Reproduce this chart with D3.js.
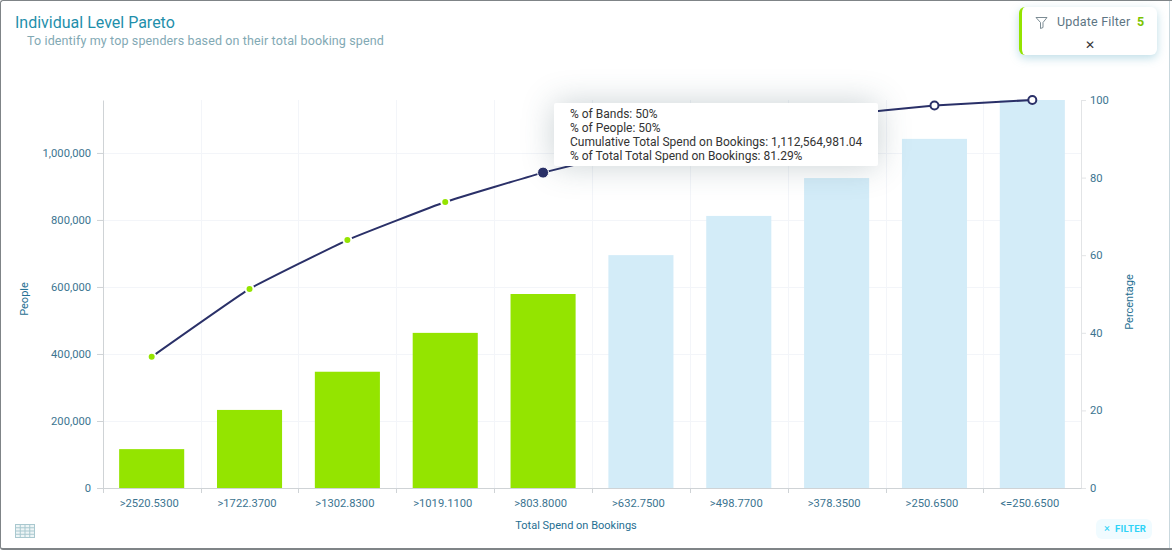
<!DOCTYPE html>
<html>
<head>
<meta charset="utf-8">
<script src="https://cdn.jsdelivr.net/npm/d3@7"></script>
<style>
    html, body { margin: 0; padding: 0; background: #fff; }
    body { width: 1172px; height: 550px; overflow: hidden; position: relative; font-family: Roboto, sans-serif; }
    #frame { position: absolute; left: 0; top: 0; width: 1171px; height: 547px; border: solid #7f8487; border-width: 1px 0 2px 1px; border-radius: 3px 0 0 3px; }
    #edge { position: absolute; left: 1169px; top: 1px; width: 1px; height: 547px; background: #c9d8de; }
    #chart { position: absolute; left: 0; top: 0; }
    .title { position: absolute; left: 15px; top: 13px; font-size: 16px; color: #1f8fab; }
    .subtitle { position: absolute; left: 27px; top: 33px; font-size: 12.5px; color: #82a9b4; letter-spacing: 0.13px; }
    .tick text { font-family: Roboto, sans-serif; font-size: 11.2px; fill: #3b7490; }
    .axis-label { font-family: Roboto, sans-serif; font-size: 11px; fill: #1f6f92; }
    .tooltip { position: absolute; left: 554px; top: 103px; width: 324px; height: 63px; box-sizing: border-box; padding: 4px 0 0 16px;
        background: #fff; border-radius: 2px; font-size: 12px; line-height: 14px; color: #333; box-shadow: 0 0 32px rgba(60, 90, 100, 0.28); white-space: nowrap; }
    .update-filter { position: absolute; left: 1019px; top: 7px; width: 138px; height: 48px; box-sizing: border-box; background: #fff;
        border-left: 3px solid #94e400; border-radius: 6px; box-shadow: 0 3px 10px rgba(90, 170, 195, 0.4); }
    .update-filter .label { position: absolute; left: 35px; top: 7px; font-size: 12.5px; color: #5d7583; letter-spacing: 0.2px; }
    .update-filter .count { position: absolute; left: 115px; top: 7px; font-size: 12.5px; font-weight: 700; color: #7cc400; }
    .update-filter .close { position: absolute; left: 63px; top: 31px; font-size: 12px; line-height: 14px; color: #333; }
    .update-filter svg { position: absolute; left: 13px; top: 9px; }
    .filter-btn { position: absolute; left: 1096px; top: 519px; width: 56px; height: 20px; border-radius: 6px; background: #f0fbff;
        font-size: 9.5px; font-weight: 700; color: #2ed3f7; line-height: 20px; letter-spacing: 0.3px; }
    .filter-btn .x { position: absolute; left: 8px; font-weight: 400; font-size: 11px; }
    .filter-btn .t { position: absolute; left: 19px; }
</style>
</head>
<body>
<div id="frame"></div>
<div id="edge"></div>
<svg id="chart" width="1172" height="550"></svg>
<div class="title">Individual Level Pareto</div>
<div class="subtitle">To identify my top spenders based on their total booking spend</div>
<div class="update-filter">
    <svg width="13" height="13" viewBox="0 0 13 13"><path d="M1 1.5H12L8 6.5V11.5L5.5 12.5V6.5Z" fill="none" stroke="#6d7f88" stroke-width="0.9"/></svg>
    <span class="label">Update Filter</span><span class="count">5</span>
    <span class="close">✕</span>
</div>
<div class="tooltip" id="tip"></div>
<div class="filter-btn"><span class="x">×</span><span class="t">FILTER</span></div>

<script>
// Data
const bands = [">2520.5300", ">1722.3700", ">1302.8300", ">1019.1100", ">803.8000",
    ">632.7500", ">498.7700", ">378.3500", ">250.6500", "<=250.6500"];
const people = [116000, 233000, 347000, 463000, 579000, 695000, 812000, 925000, 1042000, 1158000];
const percentage = [33.8, 51.3, 63.9, 73.7, 81.29, 87.4, 92.2, 96.0, 98.6, 100];
const selectedCount = 5;
const hoverIndex = 4;
const leftTicks = [0, 200000, 400000, 600000, 800000, 1000000];
const rightTicks = [0, 20, 40, 60, 80, 100];
const tooltipLines = ["% of Bands: 50%", "% of People: 50%",
    "Cumulative Total Spend on Bookings: 1,112,564,981.04",
    "% of Total Total Spend on Bookings: 81.29%"];

const margin = { top: 100, right: 91, bottom: 62, left: 103 };
const width = 1172 - margin.left - margin.right;
const height = 550 - margin.top - margin.bottom;

const svg = d3.select("#chart").append("g")
    .attr("transform", `translate(${margin.left},${margin.top})`);

const x = d3.scaleBand().domain(bands).range([0, width]).paddingInner(0.335).paddingOuter(0.165);
const yLeft = d3.scaleLinear().domain([0, 1158000]).range([height, 0]);
const yRight = d3.scaleLinear().domain([0, 100]).range([height, 0]);

// Left edge of each band, snapped so the thin lines stay crisp
const bandEdge = d => Math.round(x(d) - (x.step() - x.bandwidth()) / 2) + 0.5;

// Grid
svg.append("g").selectAll("line")
    .data(bands.slice(1))
    .enter().append("line")
    .attr("x1", bandEdge)
    .attr("x2", bandEdge)
    .attr("y1", 0).attr("y2", height)
    .attr("stroke", "#f3f5f9");
svg.append("g").selectAll("line")
    .data(leftTicks.slice(1))
    .enter().append("line")
    .attr("x1", 0).attr("x2", width)
    .attr("y1", d => Math.round(yLeft(d)) + 0.5).attr("y2", d => Math.round(yLeft(d)) + 0.5)
    .attr("stroke", "#f3f5f9");

// Bars
svg.selectAll(".bar")
    .data(bands)
    .enter().append("rect")
    .attr("class", "bar")
    .attr("x", d => x(d))
    .attr("y", (d, i) => yLeft(people[i]))
    .attr("width", x.bandwidth())
    .attr("height", (d, i) => height - yLeft(people[i]))
    .attr("fill", (d, i) => i < selectedCount ? "#94e400" : "#d3ecf8");

// Axes
const styleAxis = (g, colour) => {
    g.selectAll(".domain").attr("stroke", colour);
    g.selectAll(".tick line").attr("stroke", colour);
};
svg.append("g")
    .call(d3.axisLeft(yLeft).tickValues(leftTicks).tickFormat(d3.format(",")).tickSizeOuter(0).tickPadding(6))
    .call(styleAxis, "#cfd3d6");
svg.append("g")
    .attr("transform", `translate(${width},0)`)
    .call(d3.axisRight(yRight).tickValues(rightTicks).tickSizeOuter(0).tickSize(5).tickPadding(4))
    .call(styleAxis, "#e2e4e6");

svg.append("g")
    .attr("transform", `translate(0,${height})`)
    .call(d3.axisBottom(x).tickSize(0).tickPadding(11))
    .call(styleAxis, "#cfd3d6")
    .selectAll("text")
    .attr("dx", -2.5);
svg.append("g").selectAll("line")
    .data(bands)
    .enter().append("line")
    .attr("x1", bandEdge)
    .attr("x2", bandEdge)
    .attr("y1", height).attr("y2", height + 5)
    .attr("stroke", "#cfd3d6");

// Axis labels
svg.append("text")
    .attr("class", "axis-label")
    .attr("x", width / 2 - 16)
    .attr("y", height + 41)
    .attr("text-anchor", "middle")
    .text("Total Spend on Bookings");
svg.append("text")
    .attr("class", "axis-label")
    .attr("transform", "rotate(-90)")
    .attr("x", -199)
    .attr("y", -75)
    .attr("text-anchor", "middle")
    .text("People");
svg.append("text")
    .attr("class", "axis-label")
    .attr("transform", "rotate(-90)")
    .attr("x", -202)
    .attr("y", width + 52)
    .attr("text-anchor", "middle")
    .text("Percentage");

// Cumulative line
const line = d3.line()
    .x((d, i) => x(bands[i]) + x.bandwidth() / 2)
    .y(d => yRight(d))
    .curve(d3.curveCardinal.tension(0.7));
svg.append("path")
    .datum(percentage)
    .attr("d", line)
    .attr("fill", "none")
    .attr("stroke", "#2a3068")
    .attr("stroke-width", 2);

svg.selectAll(".point")
    .data(percentage)
    .enter().append("circle")
    .attr("class", "point")
    .attr("cx", (d, i) => x(bands[i]) + x.bandwidth() / 2)
    .attr("cy", d => yRight(d))
    .attr("r", (d, i) => i === hoverIndex ? 5.5 : 4)
    .attr("fill", (d, i) => i === hoverIndex ? "#2a3068" : i < selectedCount ? "#94e400" : "#fff")
    .attr("stroke", (d, i) => i < selectedCount ? "#fff" : "#2a3068")
    .attr("stroke-width", (d, i) => i === hoverIndex ? 1 : 2);

// Tooltip
d3.select("#tip").selectAll("div")
    .data(tooltipLines)
    .enter().append("div")
    .text(d => d);

// Table icon, bottom left
const icon = d3.select("#chart").append("g").attr("transform", "translate(15.5,524.5)");
icon.append("rect").attr("width", 19).attr("height", 13).attr("fill", "#eef5f6").attr("stroke", "#a9c8cf");
d3.range(1, 4).forEach(i => icon.append("line").attr("x1", i * 19 / 4).attr("x2", i * 19 / 4).attr("y1", 0).attr("y2", 13).attr("stroke", "#a9c8cf"));
d3.range(1, 4).forEach(i => icon.append("line").attr("x1", 0).attr("x2", 19).attr("y1", i * 13 / 4).attr("y2", i * 13 / 4).attr("stroke", "#a9c8cf"));
</script>
</body>
</html>
